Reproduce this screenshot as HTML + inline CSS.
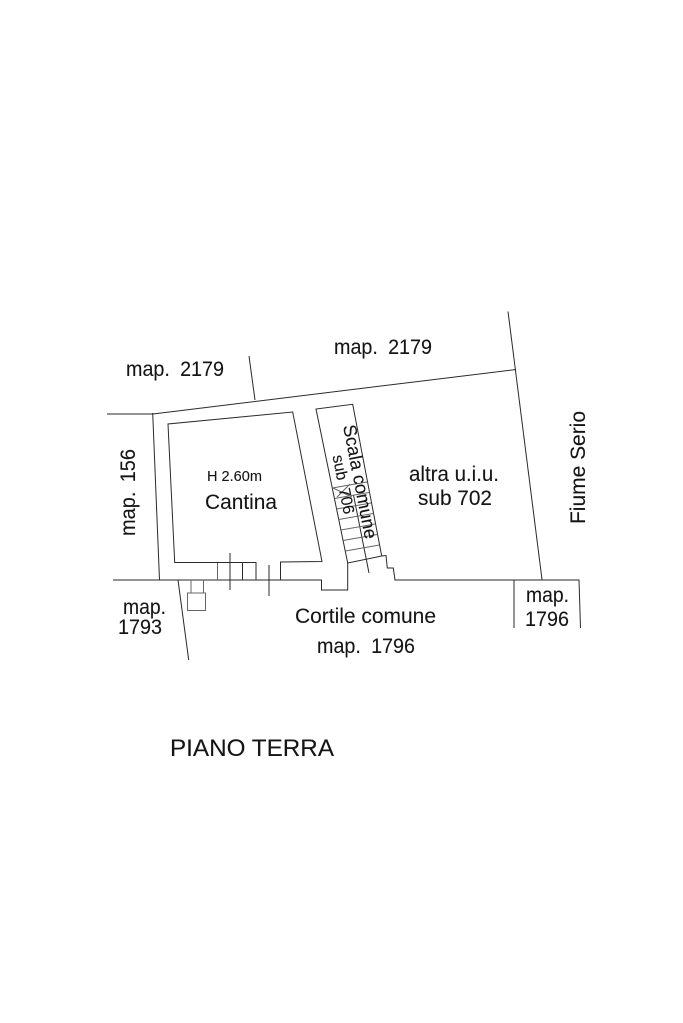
<!DOCTYPE html>
<html><head><meta charset="utf-8"><style>
html,body{margin:0;padding:0;background:#fff}
svg{display:block}
text{font-family:"Liberation Sans",sans-serif;fill:#151515;stroke:#151515;stroke-width:.1}
.l{fill:none;stroke:#2a2a2a;stroke-width:1}
.g{fill:none;stroke:#666;stroke-width:1}
</style></head><body>
<svg width="683" height="1023" viewBox="0 0 683 1023" xmlns="http://www.w3.org/2000/svg">
<g class="l">
<path d="M107 414H153L516 369.5"/>
<path d="M249 356L255 400"/>
<path d="M152.7 413L159.5 580"/>
<path d="M508 311.5L542 579.5"/>
<path d="M256 580V562.5H174.7L168 424L292.7 412L322 561.5L280.5 562V580"/>
<path d="M113 580H321.5V590H347.7V563L381.7 556"/>
<path d="M381.7 556L386 555.5L387.3 568H393.3L395 580H579L580.5 628"/>
<path d="M514 580V628"/>
<path d="M178 580L188.7 660"/>
<path d="M230 553V590M242.5 562V580M269 565V596"/>
<path d="M347.7 563L316 409L352.7 404.3L381.7 556"/>
<path d="M353.5 495L369 573"/>
</g>
<g class="g">
<path d="M217.5 563V580M191 580V593M203.5 580V593"/>
<rect x="187.5" y="593" width="18" height="17.5"/>
<path d="M332.3 488L367 482M334.5 498.5L369 492.5M336.6 509L371 503M338.8 519.5L373 513.5M341 530L375 524M343.1 540.5L377 534.5M345.4 551L379.4 545"/>
<path d="M333 488L352 497M337 497L350 484"/>
</g>
<g font-size="21">
<text x="126" y="376" word-spacing="5" textLength="98" lengthAdjust="spacingAndGlyphs">map. 2179</text>
<text x="334" y="354" word-spacing="5" textLength="98" lengthAdjust="spacingAndGlyphs">map. 2179</text>
<text transform="translate(135 536) rotate(-90)" word-spacing="4" textLength="87" lengthAdjust="spacingAndGlyphs">map. 156</text>
<text x="205" y="509" textLength="72" lengthAdjust="spacingAndGlyphs">Cantina</text>
<text x="409" y="481" textLength="90" lengthAdjust="spacingAndGlyphs">altra u.i.u.</text>
<text x="418" y="505" textLength="74" lengthAdjust="spacingAndGlyphs">sub 702</text>
<text transform="translate(585 524) rotate(-90)" textLength="113" lengthAdjust="spacingAndGlyphs">Fiume Serio</text>
<text x="123" y="614" textLength="43" lengthAdjust="spacingAndGlyphs">map.</text>
<text x="118" y="634" textLength="44" lengthAdjust="spacingAndGlyphs">1793</text>
<text x="526" y="602" textLength="43" lengthAdjust="spacingAndGlyphs">map.</text>
<text x="525" y="626" textLength="44" lengthAdjust="spacingAndGlyphs">1796</text>
<text x="295" y="623" textLength="141" lengthAdjust="spacingAndGlyphs">Cortile comune</text>
<text x="317" y="653" word-spacing="5" textLength="98" lengthAdjust="spacingAndGlyphs">map. 1796</text>
<text x="170" y="756" font-size="24" textLength="164" lengthAdjust="spacingAndGlyphs">PIANO TERRA</text>
</g>
<text x="207" y="481" font-size="15" textLength="55" lengthAdjust="spacingAndGlyphs">H 2.60m</text>
<text transform="translate(343 426) rotate(79)" font-size="18.5" textLength="116" lengthAdjust="spacingAndGlyphs">Scala comune</text>
<text transform="translate(332.5 456) rotate(79)" font-size="16" word-spacing="4" textLength="60" lengthAdjust="spacingAndGlyphs">sub 706</text>
</svg>
</body></html>
